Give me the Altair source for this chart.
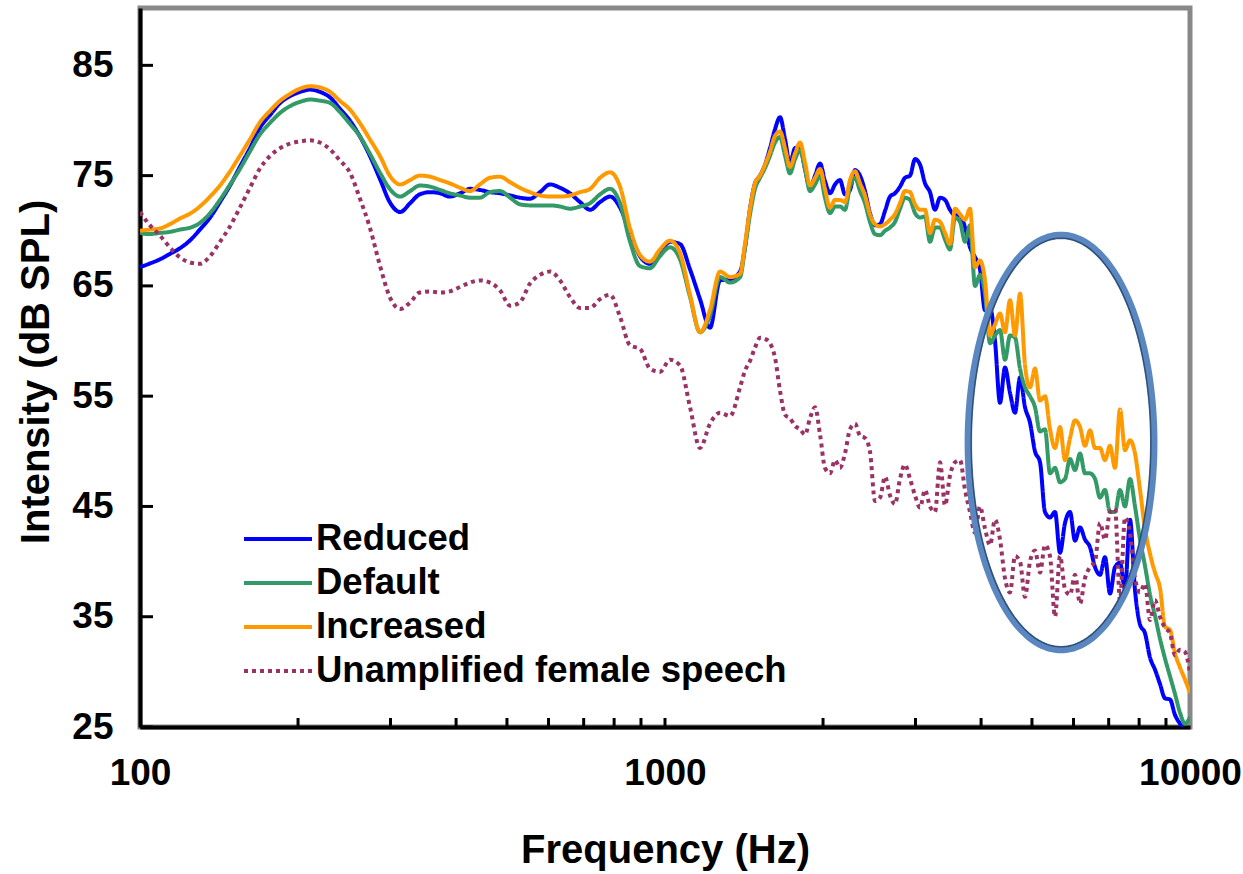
import altair as alt
import numpy as np
import pandas as pd

# ---------------- data ----------------
FREQ_HZ = [
    100, 104, 109, 114, 119, 125, 130, 136, 142, 148,
    155, 162, 169, 177, 185, 193, 202, 211, 220, 230,
    240, 251, 262, 274, 287, 299, 313, 327, 341, 357,
    373, 389, 407, 425, 444, 464, 485, 507, 529, 553,
    578, 604, 631, 659, 689, 720, 752, 786, 821, 858,
    896, 936, 978, 1022, 1068, 1116, 1166, 1218, 1273, 1330,
    1390,
    1420, 1452, 1484, 1517, 1551, 1585, 1620, 1656, 1693, 1730,
    1769, 1808, 1848, 1889, 1931, 1974, 2017, 2062, 2108, 2154,
    2202, 2251, 2301, 2352, 2404, 2457, 2512, 2568, 2625, 2683,
    2742, 2803, 2865, 2929, 2994, 3060, 3128, 3197, 3268, 3341,
    3415, 3490, 3568, 3647, 3728, 3810, 3895, 3981, 4069, 4160,
    4252, 4346, 4442, 4541, 4642, 4745, 4850, 4957, 5067, 5180,
    5294, 5412, 5532, 5654, 5780, 5908, 6039, 6173, 6310, 6450,
    6593, 6739, 6888, 7041, 7197, 7356, 7520, 7686, 7857, 8031,
    8209, 8391, 8577, 8767, 8962, 9160, 9363, 9571, 9783, 10000,
]

REDUCED = [
    66.7, 67.0, 67.4, 67.9, 68.4, 69.2, 70.1, 71.2, 72.6, 74.0,
    75.8, 77.5, 79.3, 80.5, 81.6, 82.2, 82.6, 82.8, 82.6, 82.1,
    81.1, 80.0, 78.6, 76.8, 74.6, 72.6, 71.7, 72.5, 73.3, 73.5,
    73.4, 73.1, 73.4, 73.8, 73.7, 73.5, 73.4, 73.2, 73.0, 72.9,
    73.5, 74.2, 73.9, 73.4, 72.6, 71.9, 72.6, 73.1, 72.1, 69.8,
    67.7, 67.0, 68.0, 69.0, 68.8, 66.5, 63.8, 61.2, 65.5, 65.6,
    66.3,
    68.5, 72.0, 74.3, 75.0, 76.0, 77.5, 79.2, 80.3, 78.3, 76.1,
    77.5, 77.6, 75.6, 73.9, 75.0, 76.1, 74.5, 73.4, 74.2, 74.6,
    73.3, 73.7, 75.5, 75.0, 73.6, 71.6, 70.5, 70.6, 71.8, 73.1,
    73.4, 74.0, 74.8, 75.0, 76.5, 76.0, 74.3, 73.5, 71.9, 73.0,
    72.8, 71.9, 71.4, 71.4, 70.3, 68.5, 67.6, 66.5, 62.8, 63.0,
    60.0, 54.4, 57.6, 55.3, 53.5, 56.7, 54.0, 52.6, 50.0, 49.0,
    44.5, 44.0, 44.5, 40.8, 43.5, 44.5, 41.9, 43.1, 42.0, 41.3,
    39.5, 38.8, 40.4, 37.1, 39.5, 39.9, 37.5, 43.8, 37.4, 34.3,
    33.5, 31.3, 30.2, 28.9, 27.6, 27.5, 26.1, 25.3, 24.6, 24.2,
]

DEFAULT = [
    69.8, 69.7, 69.8, 69.9, 70.1, 70.3, 70.7, 71.6, 72.8, 74.1,
    75.6, 77.2, 78.7, 79.8, 80.7, 81.3, 81.7, 81.9, 81.8, 81.6,
    80.8, 79.7, 78.6, 77.0, 75.2, 73.8, 73.1, 73.6, 74.1, 74.0,
    73.7, 73.4, 73.2, 73.0, 73.0, 73.5, 73.6, 73.0, 72.4, 72.3,
    72.3, 72.3, 72.2, 72.0, 72.2, 72.5, 73.3, 73.8, 72.5, 69.0,
    66.8, 66.6, 67.7, 68.5, 67.4, 64.0, 60.8, 62.3, 65.8, 65.3,
    65.8,
    68.4, 71.5, 73.8, 74.8, 75.7, 76.8, 78.0, 78.5, 76.8, 75.2,
    76.5, 77.3, 75.6, 73.6, 74.2, 75.0, 73.0, 71.6, 72.2, 72.2,
    71.9, 74.0, 74.8, 73.6, 72.5, 70.8, 69.7, 69.6, 70.0, 70.3,
    70.8, 72.0, 73.0, 72.8, 71.6, 71.2, 71.3, 69.0, 70.3, 70.3,
    69.2, 68.3, 71.2, 70.8, 69.0, 70.5, 65.0, 66.0, 64.3, 59.8,
    60.5, 61.0, 58.3, 60.5, 60.3, 57.5, 55.8, 55.0, 54.0, 51.8,
    52.0, 48.0, 48.5, 47.2, 47.5, 49.3, 48.3, 49.8, 48.0, 48.0,
    47.5, 45.8, 46.5, 44.5, 44.5, 46.5, 45.0, 47.5, 45.0, 42.0,
    39.6, 37.0, 35.1, 33.0, 31.2, 29.6, 28.0, 26.3, 25.3, 25.9,
]

INCREASED = [
    70.0, 70.1, 70.2, 70.6, 71.1, 71.6, 72.2, 73.1, 74.1, 75.3,
    76.8, 78.3, 79.8, 80.9, 81.8, 82.4, 82.9, 83.1, 83.0, 82.6,
    81.8, 81.0, 79.8, 78.3, 76.7, 75.0, 74.2, 74.6, 75.0, 74.9,
    74.6, 74.3, 73.9, 73.6, 74.2, 74.8, 74.9, 74.4, 73.9, 73.5,
    73.2, 73.1, 73.1, 73.2, 73.5, 73.8, 74.8, 75.3, 74.0, 70.2,
    67.8, 67.2, 68.3, 69.1, 68.0, 64.2, 60.8, 62.8, 66.3, 65.8,
    66.1,
    68.8, 72.0, 74.3, 75.0, 76.0, 77.2, 78.6, 79.0, 77.5, 75.8,
    77.0, 78.0, 76.2, 74.1, 74.8, 75.6, 73.8, 72.1, 72.8, 72.8,
    72.6, 74.6, 75.4, 74.3, 73.2, 71.5, 70.6, 70.4, 70.6, 71.0,
    71.5, 72.5, 73.6, 73.5, 72.4, 71.9, 71.9, 69.8, 71.0, 70.8,
    69.8, 68.8, 72.0, 71.5, 71.0, 72.0, 66.7, 67.3, 65.5, 60.5,
    61.5, 62.5, 60.8, 63.7, 60.5, 64.3, 57.8, 55.8, 57.5, 54.6,
    55.0, 52.0, 50.3, 52.2, 49.2, 51.2, 52.8, 52.2, 50.5, 51.9,
    50.3, 50.3, 49.2, 50.5, 48.5, 53.8, 50.1, 51.0, 49.8, 46.5,
    43.0, 40.7, 39.0, 37.6, 34.1, 33.8, 31.7, 30.4, 29.3, 28.1,
]

UNAMPLIFIED = [
    71.7, 70.6, 69.6, 68.5, 67.6, 67.1, 67.0, 67.7, 69.0, 70.3,
    72.1, 73.9, 75.6, 76.8, 77.5, 77.9, 78.1, 78.2, 78.0, 77.4,
    76.4, 75.3, 73.0, 70.3, 66.7, 64.0, 62.9, 63.5, 64.4, 64.5,
    64.4, 64.5, 64.9, 65.3, 65.5, 65.3, 64.6, 63.2, 63.5, 65.2,
    66.0, 66.3, 65.5, 64.0, 63.0, 63.0, 63.8, 64.2, 62.2, 59.6,
    59.3, 57.5, 57.2, 58.3, 57.8, 54.0, 50.3, 52.5, 53.5, 53.2,
    55.8,
    57.3, 58.2, 59.4, 60.3, 60.2, 59.8, 58.5, 55.5, 53.3, 53.0,
    52.3, 52.0, 51.5, 53.0, 54.0, 51.5, 48.5, 48.0, 49.2, 48.5,
    49.8, 52.0, 52.5, 51.4, 51.2, 50.0, 45.5, 45.8, 47.7, 46.0,
    45.2, 47.5, 48.8, 47.5, 46.0, 44.9, 46.5, 45.0, 44.5, 49.0,
    45.1, 47.8, 49.0, 49.2, 46.5, 44.5, 42.6, 45.0, 43.0, 41.5,
    43.8, 42.0, 38.5, 37.2, 40.5, 40.0, 36.8, 40.0, 41.0, 39.0,
    41.5, 40.5, 35.0, 40.5, 37.5, 37.0, 38.8, 36.2, 38.5, 39.5,
    40.0, 43.5, 42.0, 44.5, 44.8, 36.5, 44.0, 42.6, 38.5, 37.2,
    38.0, 34.7, 36.5, 35.0, 34.0, 33.5, 31.5, 32.0, 31.8, 29.9,
]

SERIES_NAMES = ["Reduced", "Default", "Increased", "Unamplified female speech"]
SERIES_COLORS = ["#0000FF", "#339966", "#FF9900", "#993366"]
SERIES_WIDTHS = [4, 4, 4, 1.2]
SERIES_DASHES = [[1, 0], [1, 0], [1, 0], [4, 4]]

Y_TICKS = [25, 35, 45, 55, 65, 75, 85]
X_LABELS = [100, 1000, 10000]
X_MINOR = [200, 300, 400, 500, 600, 700, 800, 900, 1000,
           2000, 3000, 4000, 5000, 6000, 7000, 8000, 9000]

# highlight ellipse (centre and half-axes in data units)
ELLIPSE_CENTER_HZ = 5680
ELLIPSE_CENTER_DB = 50.8
ELLIPSE_HALF_DECADES = 0.177
ELLIPSE_HALF_DB = 18.8

# ---------------- build ----------------
W, H = 1050, 719
TICKFONT = "Liberation Sans, Arial, sans-serif"
SANS = "Liberation Sans, Arial, sans-serif"

rows = []
for name, vals in zip(SERIES_NAMES, [REDUCED, DEFAULT, INCREASED, UNAMPLIFIED]):
    for f, v in zip(FREQ_HZ, vals):
        rows.append({"freq": f, "db": v, "series": name})
df = pd.DataFrame(rows)

xscale = alt.Scale(type="log", domain=[100, 10000], nice=False)
yscale = alt.Scale(domain=[25, 90.2], nice=False, zero=False)

legend = alt.Legend(
    title=None, orient="none", legendX=102, legendY=509, padding=0,
    labelFont=SANS, labelFontWeight="bold", labelFontSize=36.5, labelColor="black",
    labelLimit=800, labelOffset=2, symbolType="stroke", symbolSize=4624,
    rowPadding=0, clipHeight=44,
)

x_axis = alt.Axis(
    values=X_LABELS, format="d", title="Frequency (Hz)", grid=False, ticks=False,
    domainColor="black", domainWidth=4, labelFont=TICKFONT, labelFontSize=37,
    labelFontWeight="bold", labelColor="black", labelPadding=28, labelFlush=False,
    labelOverlap=False, labelBound=False,
    titleFont=SANS, titleFontSize=40, titleFontWeight="bold", titleColor="black",
    titleY=135, titleBaseline="alphabetic",
)
y_axis = alt.Axis(
    values=Y_TICKS, title="Intensity (dB SPL)", grid=False, ticks=False,
    domainColor="black", domainWidth=4, labelFont=TICKFONT, labelFontSize=37,
    labelFontWeight="bold", labelColor="black", labelPadding=27,
    labelOverlap=False, labelBound=False,
    titleFont=SANS, titleFontSize=40, titleFontWeight="bold", titleColor="black",
    titleAngle=270, titleX=-92, titleY=H / 2 + 4, titleAlign="center",
    titleBaseline="alphabetic",
)

lines = alt.Chart(df).mark_line(clip=True, interpolate="monotone").encode(
    x=alt.X("freq:Q", scale=xscale, axis=x_axis),
    y=alt.Y("db:Q", scale=yscale, axis=y_axis),
    color=alt.Color("series:N", scale=alt.Scale(domain=SERIES_NAMES, range=SERIES_COLORS), legend=legend),
    strokeDash=alt.StrokeDash("series:N", scale=alt.Scale(domain=SERIES_NAMES, range=SERIES_DASHES), legend=legend),
    strokeWidth=alt.StrokeWidth("series:N", scale=alt.Scale(domain=SERIES_NAMES, range=SERIES_WIDTHS), legend=legend),
)

t = np.linspace(0, 2 * np.pi, 241)
ell = pd.DataFrame({
    "i": np.arange(len(t)),
    "freq": ELLIPSE_CENTER_HZ * 10 ** (ELLIPSE_HALF_DECADES * np.cos(t)),
    "db": ELLIPSE_CENTER_DB + ELLIPSE_HALF_DB * np.sin(t),
})
ell_in = pd.DataFrame({
    "i": np.arange(len(t)),
    "freq": ELLIPSE_CENTER_HZ * 10 ** ((ELLIPSE_HALF_DECADES - 0.006) * np.cos(t)),
    "db": ELLIPSE_CENTER_DB + (ELLIPSE_HALF_DB - 0.28) * np.sin(t),
})

ellipse = alt.Chart(ell).mark_line(color="#5b87c0", strokeWidth=7, clip=True).encode(
    x=alt.X("freq:Q", scale=xscale),
    y=alt.Y("db:Q", scale=yscale),
    order="i:Q",
)
ellipse_edge = alt.Chart(ell_in).mark_line(color="#22416a", strokeWidth=1.6, opacity=0.8, clip=True).encode(
    x=alt.X("freq:Q", scale=xscale),
    y=alt.Y("db:Q", scale=yscale),
    order="i:Q",
)

yticks = alt.Chart(pd.DataFrame({"db": Y_TICKS})).mark_rule(color="black", strokeWidth=3).encode(
    y=alt.Y("db:Q", scale=yscale),
    x=alt.value(0), x2=alt.value(13),
)
xticks = alt.Chart(pd.DataFrame({"freq": X_MINOR})).mark_rule(color="black", strokeWidth=3).encode(
    x=alt.X("freq:Q", scale=xscale),
    y=alt.value(H - 9), y2=alt.value(H),
)

chart = alt.layer(lines, ellipse, ellipse_edge, yticks, xticks).properties(
    width=W, height=H,
    padding={"left": 140, "top": 8, "right": 53, "bottom": 147},
    autosize=alt.AutoSizeParams(type="none"),
    background="white",
).configure_view(stroke="#888888", strokeWidth=5)

chart.save("out.html", embed_options={"renderer": "svg", "actions": False})
